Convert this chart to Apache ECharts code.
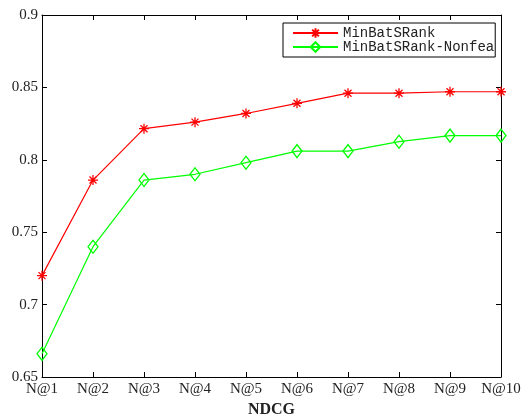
<!DOCTYPE html>
<html>
<head>
<meta charset="utf-8">
<script src="https://cdn.jsdelivr.net/npm/echarts@6/dist/echarts.min.js"></script>
<style>html,body{margin:0;padding:0;background:#fff}#c{width:524px;height:416px}</style>
</head>
<body>
<div id="c"></div>
<script>
var categories = ['N@1','N@2','N@3','N@4','N@5','N@6','N@7','N@8','N@9','N@10'];
var minBatSRank = [0.720, 0.786, 0.8215, 0.826, 0.832, 0.839, 0.846, 0.846, 0.847, 0.847];
var minBatSRankNonfea = [0.666, 0.740, 0.786, 0.790, 0.798, 0.806, 0.806, 0.8125, 0.8167, 0.8167];
var yTicks = {min: 0.65, max: 0.9, interval: 0.05};

var chart = echarts.init(document.getElementById('c'));
var asterisk = 'path://M5,0L5,10M0,5L10,5M1.5,1.5L8.5,8.5M1.5,8.5L8.5,1.5';
var serif = 'Liberation Serif';
chart.setOption({
  animation: false,
  backgroundColor: '#fff',
  grid: {left: 42, right: 23, top: 15, bottom: 39, outerBoundsMode: 'none', containLabel: false},
  legend: {
    orient: 'vertical',
    left: 283, top: 23,
    padding: [3, 1, 3, 9],
    itemGap: 0,
    itemWidth: 45,
    itemHeight: 12,
    backgroundColor: '#fff',
    borderColor: '#000',
    borderWidth: 1,
    borderRadius: 0,
    textStyle: {fontFamily: 'Liberation Mono', fontSize: 14, lineHeight: 14, color: '#222'},
    data: ['MinBatSRank', 'MinBatSRank-Nonfea']
  },
  xAxis: [{
    type: 'category', data: categories, boundaryGap: false,
    axisLine: {lineStyle: {color: '#000', width: 1}},
    axisTick: {inside: true, length: 5, lineStyle: {color: '#000'}, alignWithLabel: true},
    axisLabel: {fontFamily: serif, fontSize: 15, color: '#222', margin: 5, interval: 0},
    splitLine: {show: false},
    name: 'NDCG', nameLocation: 'middle', nameGap: 23,
    nameTextStyle: {fontFamily: serif, fontSize: 16, fontWeight: 'bold', color: '#222', verticalAlign: 'top'}
  }, {
    type: 'category', data: categories, boundaryGap: false, position: 'top',
    axisLine: {lineStyle: {color: '#000', width: 1}},
    axisTick: {inside: true, length: 5, lineStyle: {color: '#000'}},
    axisLabel: {show: false}, splitLine: {show: false}
  }],
  yAxis: [{
    type: 'value', min: yTicks.min, max: yTicks.max, interval: yTicks.interval,
    axisLine: {show: true, lineStyle: {color: '#000', width: 1}},
    axisTick: {show: true, inside: true, length: 5, lineStyle: {color: '#000'}},
    axisLabel: {fontFamily: serif, fontSize: 15, color: '#222', margin: 4,
      formatter: function (v) { return String(parseFloat(v.toFixed(2))); }},
    splitLine: {show: false}
  }, {
    type: 'value', min: yTicks.min, max: yTicks.max, interval: yTicks.interval, position: 'right',
    axisLine: {show: true, lineStyle: {color: '#000', width: 1}},
    axisTick: {show: true, inside: true, length: 5, lineStyle: {color: '#000'}},
    axisLabel: {show: false}, splitLine: {show: false}
  }],
  series: [{
    name: 'MinBatSRank', type: 'line', data: minBatSRank,
    xAxisIndex: 0, yAxisIndex: 0,
    symbol: asterisk, symbolSize: 10, showAllSymbol: true,
    lineStyle: {color: '#ff0000', width: 1.2},
    itemStyle: {color: 'rgba(0,0,0,0)', borderColor: '#ff0000', borderWidth: 1.3},
    emphasis: {disabled: true}
  }, {
    name: 'MinBatSRank-Nonfea', type: 'line', data: minBatSRankNonfea,
    xAxisIndex: 0, yAxisIndex: 0,
    symbol: 'diamond', symbolSize: [10, 13], showAllSymbol: true,
    lineStyle: {color: '#00ff00', width: 1.2},
    itemStyle: {color: 'rgba(0,0,0,0)', borderColor: '#00ff00', borderWidth: 1.3},
    emphasis: {disabled: true}
  }]
});
</script>
</body>
</html>
